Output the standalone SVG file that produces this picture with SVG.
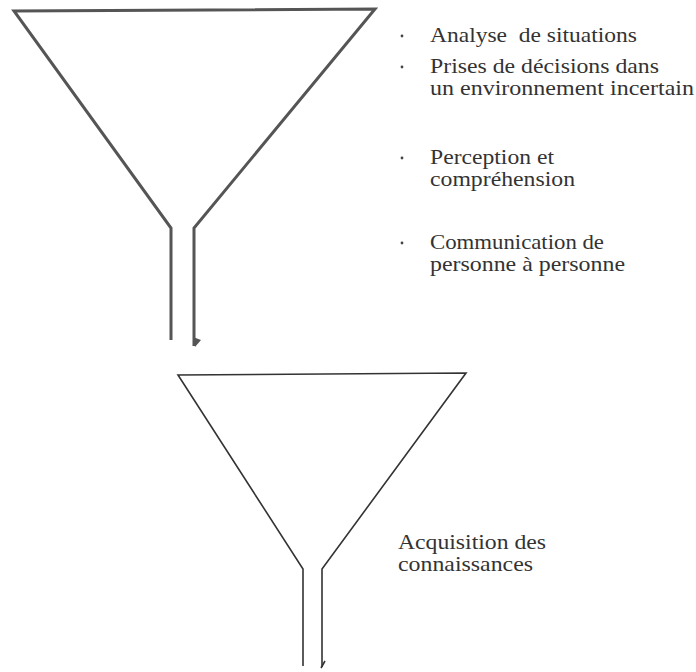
<svg xmlns="http://www.w3.org/2000/svg" width="696" height="672" viewBox="0 0 696 672">
<style>
.bg{fill:#ffffff}
.f1{fill:none;stroke:#555555;stroke-width:3;stroke-linejoin:miter}
.f2{fill:none;stroke:#333333;stroke-width:1.6;stroke-linejoin:miter}
.t{font-size:21px;fill:#333333}
.dot{fill:#444444}
</style>
<rect class="bg" x="0" y="0" width="696" height="672"/>
<g id="funnel-top">
<path class="f1" d="M171,340 L171,228 L14,11 L375,9 L194,228 L194,346"/>
<polygon points="193,337 201,340 195,347" fill="#555555"/>
</g>
<g id="funnel-bottom">
<path class="f2" d="M303,666 L303,569 L178,375 L466,373 L322,569 L322,667"/>
<path class="f2" d="M321,668 L325,661"/>
</g>
<g id="inputs" font-family="'Liberation Serif', 'DejaVu Serif', serif">
<circle class="dot" cx="402" cy="36" r="1.4"/>
<text class="t" x="430" y="42" xml:space="preserve" textLength="207" lengthAdjust="spacingAndGlyphs">Analyse  de situations</text>
<circle class="dot" cx="402" cy="67" r="1.4"/>
<text class="t" x="430" y="73" textLength="229" lengthAdjust="spacingAndGlyphs">Prises de décisions dans</text>
<text class="t" x="430" y="95" textLength="264" lengthAdjust="spacingAndGlyphs">un environnement incertain</text>
<circle class="dot" cx="402" cy="158" r="1.4"/>
<text class="t" x="430" y="164" textLength="124" lengthAdjust="spacingAndGlyphs">Perception et</text>
<text class="t" x="430" y="186" textLength="145" lengthAdjust="spacingAndGlyphs">compréhension</text>
<circle class="dot" cx="402" cy="243" r="1.4"/>
<text class="t" x="430" y="249" textLength="174" lengthAdjust="spacingAndGlyphs">Communication de</text>
<text class="t" x="430" y="271" textLength="195" lengthAdjust="spacingAndGlyphs">personne à personne</text>
</g>
<g id="output" font-family="'Liberation Serif', 'DejaVu Serif', serif">
<text class="t" x="398" y="549" textLength="148" lengthAdjust="spacingAndGlyphs">Acquisition des</text>
<text class="t" x="398" y="571" textLength="135" lengthAdjust="spacingAndGlyphs">connaissances</text>
</g>
</svg>
